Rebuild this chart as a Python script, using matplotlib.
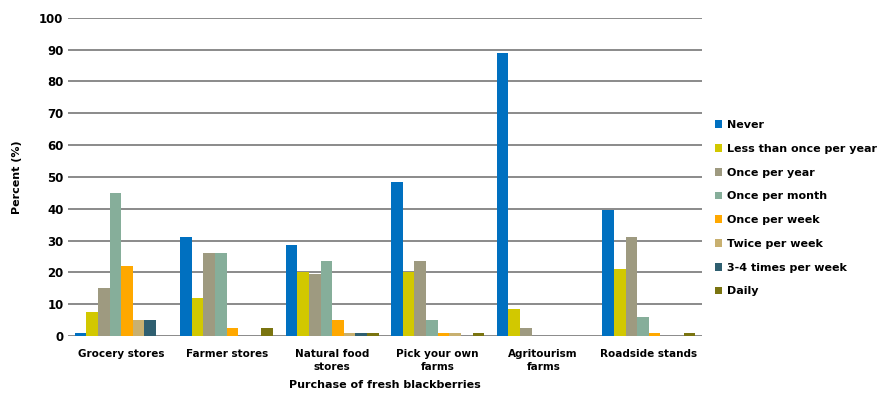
import matplotlib
matplotlib.use("Agg")
import matplotlib.pyplot as plt
import numpy as np

plt.rcParams['font.family'] = ['DejaVu Sans']

places = ["Grocery stores", "Farmer stores", "Natural food\nstores",
          "Pick your own\nfarms", "Agritourism\nfarms", "Roadside stands"]
freqs = ["Never", "Less than once per year", "Once per year", "Once per month",
         "Once per week", "Twice per week", "3-4 times per week", "Daily"]

never = [1, 31, 28.5, 48.5, 89, 39.5]
less_yearly = [7.5, 12, 20, 20, 8.5, 21]
once_year = [15, 26, 19.5, 23.5, 2.5, 31]
once_month = [45, 26, 23.5, 5, 0, 6]
once_week = [22, 2.5, 5, 1, 0, 1]
twice_week = [5, 0, 1, 1, 0, 0]
three_four = [5, 0, 1, 0, 0, 0]
daily = [0, 2.5, 1, 1, 0, 1]

series = [never, less_yearly, once_year, once_month, once_week,
          twice_week, three_four, daily]
colors = ["#0070C0", "#D2C800", "#9E9A80", "#86AE9A", "#FFA800",
          "#C8B070", "#2F5F70", "#7A7410"]

fig = plt.figure(figsize=(8.88, 3.93), dpi=100)
ax = fig.add_axes([0.077, 0.145, 0.713, 0.81])

x = np.arange(len(places))
w = 0.11
for i, (vals, c) in enumerate(zip(series, colors)):
    ax.bar(x - 3.5 * w + i * w, vals, w, color=c, label=freqs[i], zorder=3)

ax.set_ylim(0, 100)
ax.set_xlim(-0.5, len(places) - 0.5)
ax.set_yticks(range(0, 101, 10))
ax.yaxis.grid(True, color="#8a8a8a", linewidth=1.4, zorder=0)
ax.tick_params(length=0)
ax.tick_params(axis="x", pad=9)
for s in ax.spines.values():
    s.set_visible(False)
ax.set_xticks(x)
ax.set_xticklabels(places, fontsize=7.5, fontweight="bold", linespacing=1.45)
for t in ax.get_yticklabels():
    t.set_fontsize(8.5)
    t.set_fontweight("bold")
ax.set_xlabel("Purchase of fresh blackberries", fontsize=8, fontweight="bold", labelpad=6)
ax.set_ylabel("Percent (%)", fontsize=8, fontweight="bold", labelpad=12)

ax.legend(loc="upper left", bbox_to_anchor=(1.005, 0.71), frameon=False,
          prop={"size": 8, "weight": "bold"}, handlelength=0.7, handleheight=0.7,
          handletextpad=0.4, labelspacing=1.24)

fig.savefig("out.png", dpi=100)
